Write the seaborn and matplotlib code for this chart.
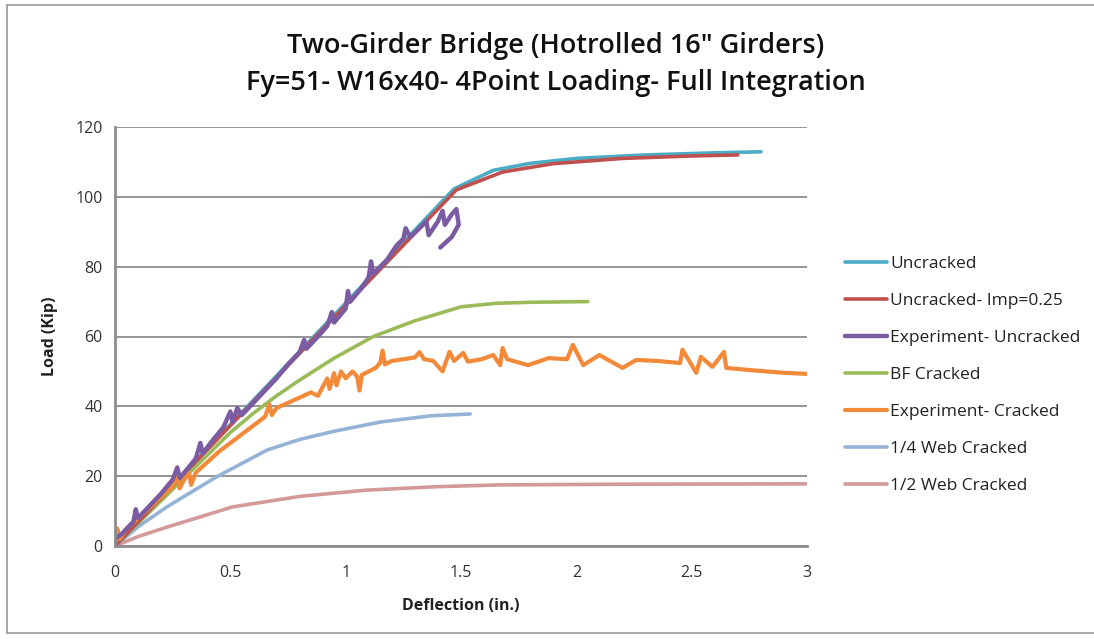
import matplotlib
matplotlib.use("Agg")
import matplotlib.pyplot as plt
import seaborn as sns
import pandas as pd
from matplotlib.lines import Line2D

# ---- series data: deflection (in.) and load (kip) ----
uncracked_x = [0, 1.47, 1.64, 1.80, 2.00, 2.30, 2.60, 2.80]
uncracked_y = [0, 102.3, 107.6, 109.6, 111.0, 112.0, 112.6, 112.9]

imp_x = [0, 1.48, 1.68, 1.90, 2.20, 2.50, 2.70]
imp_y = [0, 102.0, 107.1, 109.5, 111.0, 111.7, 112.0]

exp_unc_x = [0, 0.03, 0.08, 0.09, 0.10, 0.15, 0.20, 0.25, 0.27, 0.28, 0.30, 0.35, 0.37,
             0.38, 0.42, 0.47, 0.50, 0.51, 0.53, 0.55, 0.60, 0.65, 0.70, 0.75, 0.80,
             0.82, 0.83, 0.88, 0.92, 0.94, 0.95, 1.00, 1.01, 1.02, 1.07, 1.10, 1.11,
             1.12, 1.18, 1.22, 1.25, 1.26, 1.28, 1.32, 1.35, 1.36, 1.40, 1.42, 1.43,
             1.46, 1.48, 1.49, 1.46, 1.41]
exp_unc_y = [2, 3.5, 7, 10.5, 8, 11.5, 15, 19, 22.5, 19.5, 21, 25, 29.5,
             26.5, 30, 34, 38.5, 35.5, 39.5, 37.5, 41, 44.5, 48, 52, 55.5,
             59, 56.5, 60, 63, 67, 64, 68, 73, 70, 74, 77, 81.5,
             78, 82, 86, 88, 91, 88.5, 91, 93, 89, 93, 96, 92,
             95, 96.5, 92.0, 88.5, 85.5]

bf_x = [0, 0.10, 0.20, 0.30, 0.40, 0.50, 0.60, 0.70, 0.80, 0.95, 1.12, 1.30, 1.50,
        1.65, 1.80, 2.05]
bf_y = [0, 6.5, 13, 19.5, 26, 32.5, 38, 43, 47.5, 53.8, 60, 64.5, 68.5,
        69.5, 69.8, 70]

exp_cr_x = [0, 0.01, 0.02, 0.05, 0.10, 0.15, 0.20, 0.25, 0.27, 0.28, 0.30, 0.32, 0.33,
            0.35, 0.40, 0.45, 0.50, 0.55, 0.60, 0.65, 0.67, 0.68, 0.70, 0.75, 0.80,
            0.85, 0.88, 0.90, 0.92, 0.93, 0.95, 0.96, 0.98, 1.00, 1.03, 1.05, 1.06,
            1.07, 1.10, 1.13, 1.15, 1.16, 1.17, 1.20, 1.25, 1.30, 1.32, 1.34, 1.38,
            1.42, 1.45, 1.47, 1.51, 1.53, 1.59, 1.64, 1.67, 1.68, 1.70, 1.79, 1.88,
            1.96, 1.985, 2.03, 2.10, 2.20, 2.26, 2.35, 2.45, 2.46, 2.52, 2.54, 2.59,
            2.64, 2.65, 2.75, 2.90, 3.00]
exp_cr_y = [1, 5, 2, 5, 8, 11, 14, 17, 20, 16.5, 19, 21, 17.5,
            21, 24, 27, 29.5, 32, 34.5, 37, 40.5, 37.5, 39.5, 41, 42.5,
            44, 43, 45.5, 48, 45, 49.5, 46, 50, 48, 50, 48.5, 44.5,
            49, 50, 51, 52.5, 56, 52, 53, 53.5, 54, 55.5, 53.5, 53,
            50, 55.6, 53, 55.3, 52.8, 53.5, 54.7, 51.8, 56.7, 53.5, 51.8, 53.8,
            53.5, 57.6, 51.8, 54.7, 51, 53.3, 53, 52.4, 56.2, 49.6, 54.2, 51.3,
            55.6, 51, 50.4, 49.6, 49.3]

quarter_x = [0, 0.10, 0.225, 0.44, 0.66, 0.80, 0.945, 1.15, 1.37, 1.54]
quarter_y = [0, 5.5, 11.2, 19.8, 27.5, 30.5, 32.8, 35.5, 37.3, 37.8]

half_x = [0, 0.10, 0.225, 0.51, 0.80, 1.09, 1.40, 1.67, 2.20, 3.00]
half_y = [0, 2.7, 5.4, 11.2, 14.2, 16.0, 17.0, 17.5, 17.7, 17.8]

series_names = ["Uncracked", "Uncracked- Imp=0.25", "Experiment- Uncracked",
                "BF Cracked", "Experiment- Cracked", "1/4 Web Cracked",
                "1/2 Web Cracked"]
series_data = [(uncracked_x, uncracked_y), (imp_x, imp_y), (exp_unc_x, exp_unc_y),
               (bf_x, bf_y), (exp_cr_x, exp_cr_y), (quarter_x, quarter_y),
               (half_x, half_y)]
series_colors = ["#4BACC6", "#C0504D", "#7B5CA3", "#9BBB59", "#F28A3A",
                 "#95B3D7", "#D49A9A"]
series_widths = [2.6, 2.6, 3.2, 2.6, 3.0, 2.6, 2.6]

frames = []
for name, (xs, ys) in zip(series_names, series_data):
    frames.append(pd.DataFrame({"Deflection": xs, "Load": ys, "Series": name}))
df = pd.concat(frames, ignore_index=True)

sns.set_theme(style="white")
plt.rcParams["font.family"] = ["Open Sans", "DejaVu Sans"]

fig = plt.figure(figsize=(10.94, 6.39), dpi=100)
W, H = 1094, 639
ax = fig.add_axes([115 / W, 1 - 546 / H, (807 - 115) / W, (546 - 127) / H])

# draw back-to-front: the test curves sit on top of the analysis curves
draw_order = [6, 5, 3, 0, 1, 4, 2]
for i in draw_order:
    sub = df[df["Series"] == series_names[i]]
    sns.lineplot(data=sub, x="Deflection", y="Load", ax=ax, sort=False,
                 estimator=None, color=series_colors[i], lw=series_widths[i],
                 label=series_names[i], legend=False)

ax.set_xlim(0, 3)
ax.set_ylim(0, 120)
ax.set_xticks([0, 0.5, 1, 1.5, 2, 2.5, 3])
ax.set_xticklabels(["0", "0.5", "1", "1.5", "2", "2.5", "3"])
ax.set_yticks(range(0, 121, 20))
ax.yaxis.grid(True, color="#8C8C8C", lw=1.3)
ax.set_axisbelow(True)
for side in ["top", "right"]:
    ax.spines[side].set_visible(False)
for side in ["left", "bottom"]:
    ax.spines[side].set_color("#8C8C8C")
    ax.spines[side].set_linewidth(2.0)
ax.tick_params(axis="both", length=0, labelsize=11.5, colors="#333333")
ax.tick_params(axis="x", pad=14)
ax.tick_params(axis="y", pad=9)

ax.set_xlabel("Deflection (in.)", fontsize=11.5, fontweight="bold", color="#222222",
              labelpad=12)
ax.set_ylabel("Load (Kip)", fontsize=11.5, fontweight="bold", color="#222222",
              labelpad=12)

fig.text(556 / W, 1 - 46 / H, "Two-Girder Bridge (Hotrolled 16\" Girders)",
         ha="center", va="center", fontsize=19.5, fontweight="semibold", color="#111111")
fig.text(556 / W, 1 - 83 / H, "Fy=51- W16x40- 4Point Loading- Full Integration",
         ha="center", va="center", fontsize=19.5, fontweight="semibold", color="#111111")

handles, labels = ax.get_legend_handles_labels()
order = [labels.index(n) for n in series_names]
leg = fig.legend([handles[k] for k in order], [labels[k] for k in order],
                 loc="upper left", bbox_to_anchor=(838 / W, 1 - 249 / H),
                 frameon=False, fontsize=12.5, handlelength=2.4, handletextpad=0.2,
                 labelspacing=1.2, borderaxespad=0)
for t in leg.get_texts():
    t.set_color("#222222")

# light frame along the left, top and bottom of the chart area
frame_kw = dict(transform=fig.transFigure, color="#9A9A9A", lw=1.2)
x0, y_top, y_bot = 7 / W, 1 - 5 / H, 1 - 633 / H
fig.lines.append(Line2D([x0, x0], [y_bot, y_top], **frame_kw))
fig.lines.append(Line2D([x0, 1.0], [y_top, y_top], **frame_kw))
fig.lines.append(Line2D([x0, 1.0], [y_bot, y_bot], **frame_kw))

fig.savefig("out.png", dpi=100)
